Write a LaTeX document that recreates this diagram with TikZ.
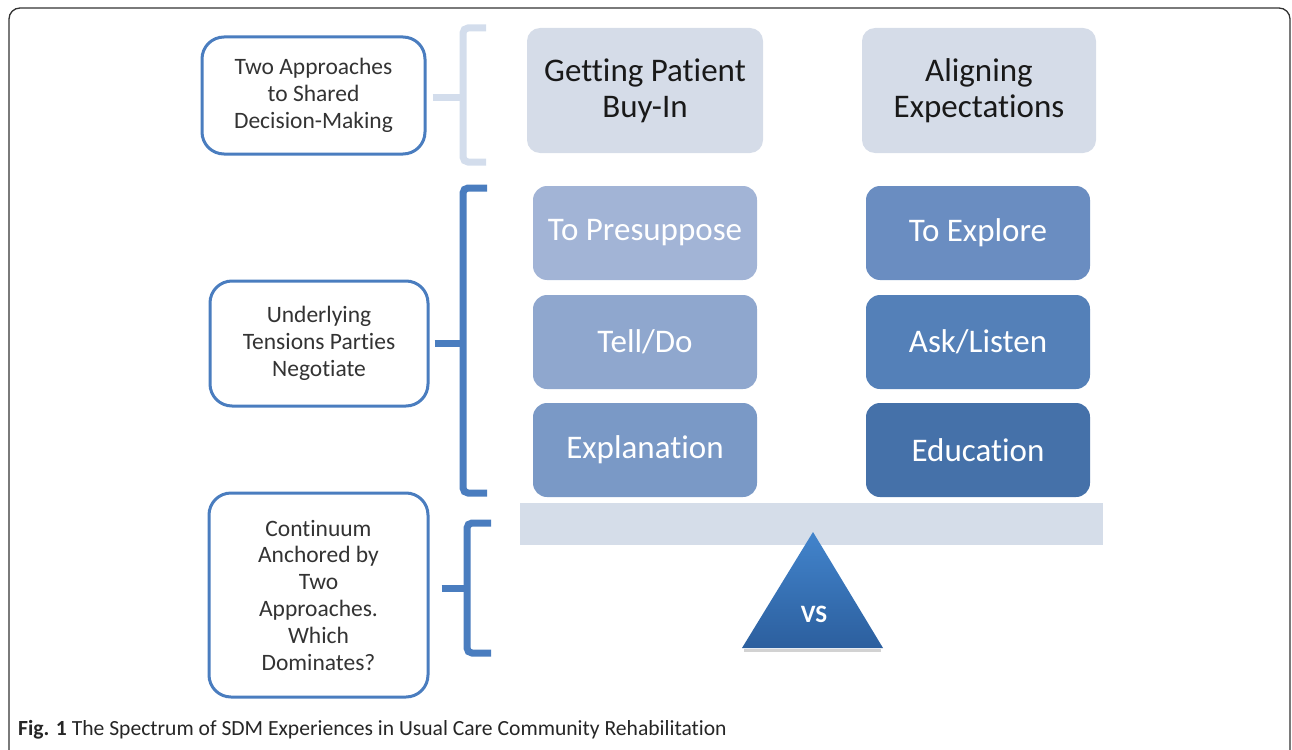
\documentclass[tikz,border=0pt]{standalone}
\usepackage{fontspec}
\setmainfont{Carlito}[Ligatures=NoCommon]
\definecolor{framec}{HTML}{333333}
\definecolor{edgeblue}{HTML}{4A7DBF}
\definecolor{lightbr}{HTML}{D3DDEC}
\definecolor{topfill}{HTML}{D5DCE8}
\definecolor{plankc}{HTML}{D5DDE9}
\definecolor{cA}{HTML}{A2B4D6}
\definecolor{cB}{HTML}{8FA7CE}
\definecolor{cC}{HTML}{7A99C6}
\definecolor{cD}{HTML}{6A8DC1}
\definecolor{cE}{HTML}{5480B8}
\definecolor{cF}{HTML}{4571A9}
\definecolor{triT}{HTML}{4284CC}
\definecolor{triB}{HTML}{2C5F9E}
\begin{document}
\begin{tikzpicture}[x=1pt,y=-1pt,
  leftbox/.style={draw=edgeblue, line width=3pt, fill=white, rounded corners=22pt,
    align=center, inner sep=0pt, text=black!80, font=\fontsize{23.5}{26.8}\selectfont},
  topbox/.style={fill=topfill, rounded corners=13pt, align=center, inner sep=0pt,
    minimum width=235pt, minimum height=125pt, text=black!90,
    font=\fontsize{33}{36}\selectfont},
  midbox/.style={rounded corners=14pt, align=center, inner sep=0pt,
    minimum width=224pt, minimum height=94pt, text=white,
    font=\fontsize{33}{36}\selectfont},
  brace/.style={line width=7pt, rounded corners=5pt},
]
\useasboundingbox (0,0) rectangle (1292,749);
\begin{scope}
\clip (0,0) rectangle (1292,749);
\draw[framec, line width=1.3pt, rounded corners=11pt] (9,8) rectangle (1290,762);
\end{scope}

% left boxes
\node[leftbox, minimum width=223pt, minimum height=117pt] (q1) at (313.5,95.5)
  {Two Approaches\\to Shared\\Decision-Making};
\node[leftbox, minimum width=218pt, minimum height=125pt] (q2) at (319,343.5)
  {Underlying\\Tensions Parties\\Negotiate};
\node[leftbox, minimum width=219pt, minimum height=204pt] (q3) at (318.5,595)
  {Continuum\\Anchored by\\Two\\Approaches.\\Which\\Dominates?};

% brackets
\coordinate (b1t) at (486,28);  \coordinate (b1b) at (486,162); \coordinate (b1m) at (463,98);
\coordinate (b2t) at (487,188); \coordinate (b2b) at (487,493); \coordinate (b2m) at (463,343);
\coordinate (b3t) at (491,523); \coordinate (b3b) at (491,653); \coordinate (b3m) at (467,588);
\path (b1m -| q1.east) ++(6,0) coordinate (t1);
\path (b2m -| q2.east) ++(5,0) coordinate (t2);
\path (b3m -| q3.east) ++(12,0) coordinate (t3);
\draw[brace, lightbr] (b1t) -| (b1m) |- (b1b);
\draw[brace, lightbr] (t1) -- (b1m);
\draw[brace, edgeblue] (b2t) -| (b2m) |- (b2b);
\draw[brace, edgeblue] (t2) -- (b2m);
\draw[brace, edgeblue] (b3t) -| (b3m) |- (b3b);
\draw[brace, edgeblue] (t3) -- (b3m);

% top boxes
\node[topbox, minimum width=236pt] (buy) at (645,90.5) {Getting Patient\\Buy-In};
\node[topbox, minimum width=234pt] (align) at (979,90.5) {Aligning\\Expectations};

% middle boxes
\node[midbox, fill=cA] (pre) at (645,233) {To Presuppose};
\node[midbox, fill=cB] (tell) at (645,342) {Tell/Do};
\node[midbox, fill=cC] (expl) at (645,450) {Explanation};
\node[midbox, fill=cD] (expo) at (978,233) {To Explore};
\node[midbox, fill=cE] (ask) at (978,342) {Ask/Listen};
\node[midbox, fill=cF] (edu) at (978,450) {Education};

% plank
\node[fill=plankc, minimum width=583pt, minimum height=42pt, inner sep=0pt] (plank) at (811.5,524) {};

% fulcrum
\fill[black!35, opacity=0.5] (744,649) rectangle (881,652);
\shade[top color=triT, bottom color=triB] (813,532) -- (883,648) -- (742,648) -- cycle;
\node[text=white, font=\bfseries\fontsize{25}{28}\selectfont] (vs) at (814,614) {VS};

% caption
\node[anchor=base west, inner sep=0pt, text=black!85, font=\fontsize{21.6}{24}\selectfont] (cap) at (18,735)
  {\textbf{Fig. 1} The Spectrum of SDM Experiences in Usual Care Community Rehabilitation};
\end{tikzpicture}
\end{document}
